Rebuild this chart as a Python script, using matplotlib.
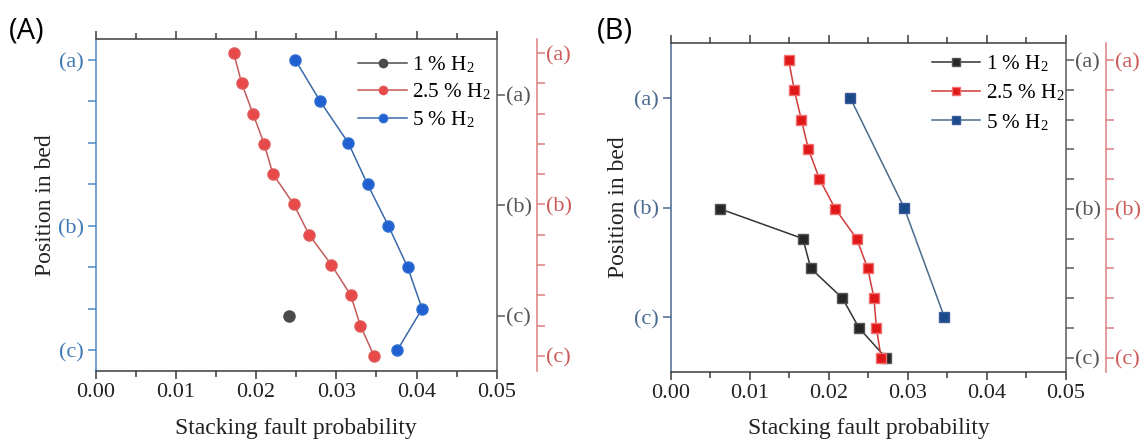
import matplotlib
matplotlib.use("Agg")
import matplotlib.pyplot as plt
from matplotlib.ticker import FormatStrFormatter, MultipleLocator, FixedLocator

plt.rcParams['font.family'] = ['Liberation Serif', 'DejaVu Serif']
plt.rcParams['mathtext.fontset'] = 'stix'

# ---------------- data ----------------
series_labels = ["1 % H$_\\mathregular{2}$", "2.5 % H$_\\mathregular{2}$", "5 % H$_\\mathregular{2}$"]
pos_labels = ["(a)", "(b)", "(c)"]

# Panel A (circles)
a_h1_pos = [2]                      # on the gray (3-tick) axis
a_h1_sfp = [0.0241]
a_h25_pos = [0, 1, 2, 3, 4, 5, 6, 7, 8, 9, 10]   # on the red (11-tick) axis
a_h25_sfp = [0.0172, 0.0182, 0.0196, 0.0210, 0.0221, 0.0247, 0.0266, 0.0294, 0.0318, 0.0330, 0.0347]
a_h5_pos = [0, 1, 2, 3, 4, 5, 6, 7]               # on the blue (8-tick) axis
a_h5_sfp = [0.0249, 0.0280, 0.0315, 0.0339, 0.0365, 0.0389, 0.0407, 0.0376]

# Panel B (squares)
b_h1_pos = [5, 6, 7, 8, 9, 10]                    # on the gray (11-tick) axis
b_h1_sfp = [0.0062, 0.0167, 0.0177, 0.0217, 0.0238, 0.0272]
b_h25_pos = [0, 1, 2, 3, 4, 5, 6, 7, 8, 9, 10]   # on the red (11-tick) axis
b_h25_sfp = [0.0149, 0.0156, 0.0165, 0.0174, 0.0188, 0.0208, 0.0235, 0.0249, 0.0257, 0.0260, 0.0266]
b_h5_pos = [0, 1, 2]                              # on the blue (3-tick) axis
b_h5_sfp = [0.0227, 0.0295, 0.0346]

fig = plt.figure(figsize=(11.45, 4.46), dpi=100)
fig.patch.set_facecolor('white')

TICK_FS = 16
LAB_FS = 17
LEG_FS = 15.2
MAJ_LEN, MIN_LEN = 5.5, 4.0
SPW = 1.1


def style_yaxis(axis_ax, side, color, labcolor, ylim, major, minor, pad):
    axis_ax.set_ylim(*ylim)
    axis_ax.yaxis.set_major_locator(FixedLocator(major))
    axis_ax.set_yticklabels(pos_labels)
    if minor:
        axis_ax.yaxis.set_minor_locator(FixedLocator(minor))
    axis_ax.tick_params(axis='y', which='both', direction='out', colors=color,
                        labelcolor=labcolor, labelsize=TICK_FS, width=SPW, pad=pad,
                        left=(side == 'left'), right=(side == 'right'),
                        labelleft=(side == 'left'), labelright=(side == 'right'))
    axis_ax.tick_params(axis='y', which='major', length=MAJ_LEN)
    axis_ax.tick_params(axis='y', which='minor', length=MAJ_LEN)


def make_panel(rect, spec):
    ax = fig.add_axes(rect)
    ax.set_xlim(0, 0.05)
    ax.xaxis.set_major_locator(MultipleLocator(0.01))
    ax.xaxis.set_minor_locator(MultipleLocator(0.005))
    ax.xaxis.set_major_formatter(FormatStrFormatter('%.2f'))
    ax.tick_params(axis='x', which='both', direction='out', top=True, bottom=True,
                   colors='#3a3a3a', labelsize=TICK_FS, width=SPW, pad=3.5, labelcolor='#222222')
    ax.tick_params(axis='x', which='major', length=MAJ_LEN)
    ax.tick_params(axis='x', which='minor', length=MIN_LEN)
    for s in ax.spines.values():
        s.set_linewidth(SPW)
    ax.spines['top'].set_color('#3a3a3a')
    ax.spines['bottom'].set_color('#3a3a3a')
    ax.spines['left'].set_color(spec['left_color'])
    ax.spines['right'].set_visible(False)
    style_yaxis(ax, 'left', spec['left_color'], spec['left_lab'], spec['left_lim'],
                spec['left_major'], spec['left_minor'], 3)
    ax.set_xlabel("Stacking fault probability", fontsize=LAB_FS, color='#222222', labelpad=11)
    ax.set_ylabel("Position in bed", fontsize=LAB_FS, color='#222222', labelpad=spec['ylabpad'])

    axg = ax.twinx()
    for k in ('left', 'top', 'bottom'):
        axg.spines[k].set_visible(False)
    axg.spines['right'].set_color('#5a5a5a')
    axg.spines['right'].set_linewidth(SPW)
    style_yaxis(axg, 'right', '#5a5a5a', '#555555', spec['gray_lim'],
                spec['gray_major'], spec['gray_minor'], 1)

    axr = ax.twinx()
    for k in ('left', 'top', 'bottom'):
        axr.spines[k].set_visible(False)
    axr.spines['right'].set_position(('outward', 29))
    axr.spines['right'].set_color('#dd7f80')
    axr.spines['right'].set_linewidth(SPW)
    style_yaxis(axr, 'right', '#dd7f80', '#cc5a5a', spec['red_lim'],
                spec['red_major'], spec['red_minor'], 1)
    return ax, axg, axr


# ---------------- Panel A ----------------
specA = dict(left_color='#4f88c2', left_lab='#3f78b5', left_lim=(7.5, -0.5),
             left_major=[0, 4, 7], left_minor=[1, 2, 3, 5, 6],
             gray_lim=(2.5, -0.5), gray_major=[0, 1, 2], gray_minor=[],
             red_lim=(10.5, -0.45), red_major=[0, 5, 10], red_minor=[1, 2, 3, 4, 6, 7, 8, 9],
             ylabpad=1.5)
axA, axAg, axAr = make_panel([0.0836, 0.1682, 0.3502, 0.7437], specA)

hA1, = axAg.plot(a_h1_sfp, a_h1_pos, '-o', color='#4a4a4a', mfc='#4a4a4a', mec='#4a4a4a',
                 ms=8, lw=1.1)
hA2, = axAr.plot(a_h25_sfp, a_h25_pos, '-o', color='#c45a5a', mfc='#e84a4a', mec='#e05a5a',
                 ms=8, lw=1.1)
hA3, = axA.plot(a_h5_sfp, a_h5_pos, '-o', color='#3a6aaa', mfc='#2060d0', mec='#3070d0',
                ms=8, lw=1.1)
legA = axAr.legend([hA1, hA2, hA3], series_labels, loc='upper left',
                   bbox_to_anchor=(0.655, 0.955), frameon=False, fontsize=LEG_FS,
                   handlelength=2.3, handletextpad=0.25, labelspacing=0.33, borderpad=0,
                   borderaxespad=0, markerscale=0.75)

# ---------------- Panel B ----------------
specB = dict(left_color='#4a6a90', left_lab='#4a6a90', left_lim=(2.5, -0.5),
             left_major=[0, 1, 2], left_minor=[],
             gray_lim=(10.47, -0.56), gray_major=[0, 5, 10], gray_minor=[1, 2, 3, 4, 6, 7, 8, 9],
             red_lim=(10.47, -0.56), red_major=[0, 5, 10], red_minor=[1, 2, 3, 4, 6, 7, 8, 9],
             ylabpad=3)
axB, axBg, axBr = make_panel([0.586, 0.1666, 0.345, 0.7363], specB)

hB1, = axBg.plot(b_h1_sfp, b_h1_pos, '-s', color='#333333', mfc='#262626', mec='#555555',
                 ms=6.5, lw=1.1)
hB2, = axBr.plot(b_h25_sfp, b_h25_pos, '-s', color='#d03a3a', mfc='#e01818', mec='#f07070',
                 ms=6.5, lw=1.1)
hB3, = axB.plot(b_h5_sfp, b_h5_pos, '-s', color='#4a6a8a', mfc='#1a4a8a', mec='#3a5a9a',
                ms=6.5, lw=1.1)
legB = axBr.legend([hB1, hB2, hB3], series_labels, loc='upper left',
                   bbox_to_anchor=(0.66, 0.968), frameon=False, fontsize=LEG_FS,
                   handlelength=2.3, handletextpad=0.25, labelspacing=0.4, borderpad=0,
                   borderaxespad=0, markerscale=0.8)

fig.text(0.008, 0.93, "(A)", fontsize=21, family=['Open Sans', 'DejaVu Sans'], va='center')
fig.text(0.521, 0.93, "(B)", fontsize=21, family=['Open Sans', 'DejaVu Sans'], va='center')

fig.savefig("out.png", dpi=100, facecolor='white')
